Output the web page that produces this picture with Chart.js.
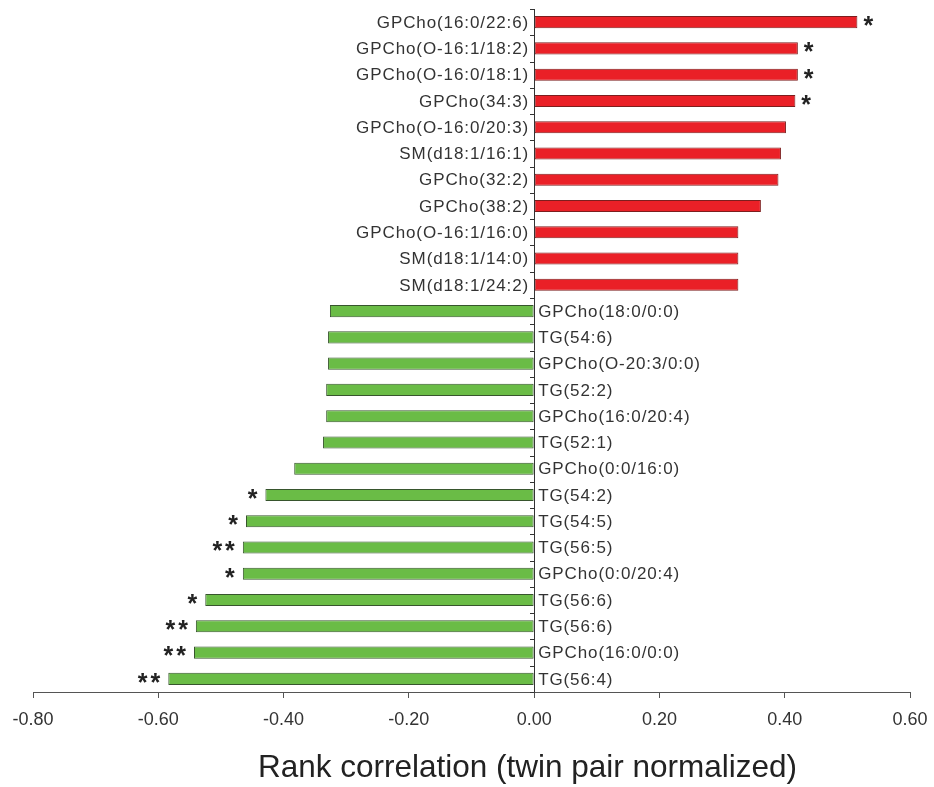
<!DOCTYPE html>
<html>
<head>
<meta charset="utf-8">
<script src="https://cdn.jsdelivr.net/npm/chart.js@4.4.0/dist/chart.umd.min.js"></script>
<style>
  html, body { margin: 0; padding: 0; background: #ffffff; }
  #wrap { width: 934px; height: 787px; position: relative; }
</style>
</head>
<body>
<div id="wrap"><canvas id="c" width="934" height="787"></canvas></div>
<script>
const categories = [
  "GPCho(16:0/22:6)", "GPCho(O-16:1/18:2)", "GPCho(O-16:0/18:1)", "GPCho(34:3)",
  "GPCho(O-16:0/20:3)", "SM(d18:1/16:1)", "GPCho(32:2)", "GPCho(38:2)",
  "GPCho(O-16:1/16:0)", "SM(d18:1/14:0)", "SM(d18:1/24:2)",
  "GPCho(18:0/0:0)", "TG(54:6)", "GPCho(O-20:3/0:0)", "TG(52:2)",
  "GPCho(16:0/20:4)", "TG(52:1)", "GPCho(0:0/16:0)", "TG(54:2)", "TG(54:5)",
  "TG(56:5)", "GPCho(0:0/20:4)", "TG(56:6)", "TG(56:6)", "GPCho(16:0/0:0)", "TG(56:4)"
];
const correlation = [
  0.516, 0.421, 0.421, 0.417, 0.402, 0.394, 0.390, 0.362, 0.326, 0.326, 0.326,
  -0.326, -0.329, -0.329, -0.332, -0.332, -0.337, -0.383, -0.429, -0.460,
  -0.465, -0.465, -0.525, -0.540, -0.543, -0.584
];
const significance = [
  "*", "*", "*", "*", "", "", "", "", "", "", "",
  "", "", "", "", "", "", "", "*", "*",
  "**", "*", "*", "**", "**", "**"
];
const xTicks = [-0.8, -0.6, -0.4, -0.2, 0, 0.2, 0.4, 0.6];
const axisTitle = "Rank correlation (twin pair normalized)";

const RED = "rgb(234,32,39)", RED_EDGE = "rgb(125,30,30)";
const GREEN = "rgb(106,188,70)", GREEN_EDGE = "rgb(55,85,45)";

const annotate = {
  id: "annotate",
  afterDatasetsDraw(chart) {
    const ctx = chart.ctx;
    const xs = chart.scales.x, ys = chart.scales.y;
    const x0 = xs.getPixelForValue(0);
    const area = chart.chartArea;
    const n = categories.length;
    const step = ys.getPixelForValue(1) - ys.getPixelForValue(0);
    ctx.save();
    // zero line
    ctx.strokeStyle = "#333";
    ctx.lineWidth = 1;
    ctx.beginPath();
    ctx.moveTo(Math.round(x0) + 0.5, area.top);
    ctx.lineTo(Math.round(x0) + 0.5, area.bottom);
    ctx.stroke();
    // boundary ticks on zero line
    for (let i = 0; i <= n; i++) {
      const yb = ys.getPixelForValue(0) + (i - 0.5) * step;
      ctx.beginPath();
      ctx.moveTo(Math.round(x0) - 4, Math.round(yb) + 0.5);
      ctx.lineTo(Math.round(x0) + 0.5, Math.round(yb) + 0.5);
      ctx.stroke();
    }
    // category labels
    ctx.font = "17px 'Liberation Sans', Arial, sans-serif";
    if ("letterSpacing" in ctx) ctx.letterSpacing = "0.9px";
    ctx.textBaseline = "middle";
    ctx.fillStyle = "#333";
    categories.forEach((lab, i) => {
      const y = ys.getPixelForValue(i);
      if (correlation[i] >= 0) { ctx.textAlign = "right"; ctx.fillText(lab, x0 - 5, y + 1); }
      else { ctx.textAlign = "left"; ctx.fillText(lab, x0 + 4, y + 1); }
    });
    // significance stars
    ctx.font = "bold 25px 'Liberation Sans', Arial, sans-serif";
    if ("letterSpacing" in ctx) ctx.letterSpacing = "3px";
    ctx.fillStyle = "#222";
    categories.forEach((lab, i) => {
      const s = significance[i];
      if (!s) return;
      const y = ys.getPixelForValue(i);
      const xe = xs.getPixelForValue(correlation[i]);
      if (correlation[i] >= 0) { ctx.textAlign = "left"; ctx.fillText(s, xe + 6, y + 5); }
      else { ctx.textAlign = "right"; ctx.fillText(s, xe - 5, y + 5); }
    });
    // axis title
    if ("letterSpacing" in ctx) ctx.letterSpacing = "0px";
    ctx.font = "31.5px 'Liberation Sans', Arial, sans-serif";
    ctx.textAlign = "center";
    ctx.textBaseline = "middle";
    ctx.fillStyle = "#222";
    ctx.fillText(axisTitle, (area.left + area.right) / 2 + 56, 768);
    ctx.restore();
  }
};

new Chart(document.getElementById("c"), {
  type: "bar",
  data: {
    labels: categories,
    datasets: [{
      data: correlation,
      backgroundColor: correlation.map(v => v >= 0 ? RED : GREEN),
      borderColor: correlation.map(v => v >= 0 ? RED_EDGE : GREEN_EDGE),
      borderWidth: 1,
      borderSkipped: false,
      categoryPercentage: 1.0,
      barPercentage: 0.46
    }]
  },
  options: {
    indexAxis: "y",
    responsive: false,
    animation: false,
    layout: { padding: { left: 33, right: 24, top: 9, bottom: 45 } },
    plugins: { legend: { display: false }, tooltip: { enabled: false } },
    scales: {
      y: { display: false, offset: true },
      x: {
        min: -0.8, max: 0.6,
        afterBuildTicks(scale) { scale.ticks = xTicks.map(v => ({ value: v })); },
        afterFit(scale) { scale.paddingLeft = 0; scale.paddingRight = 0; scale.height = 50; },
        border: { display: true, color: "#555", width: 1 },
        grid: { drawOnChartArea: false, drawTicks: true, tickLength: 6, color: "#555" },
        ticks: {
          color: "#333",
          padding: 11,
          font: { family: "'Liberation Sans', Arial, sans-serif", size: 18 },
          maxRotation: 0,
          callback: v => Number(v).toFixed(2)
        },
        title: { display: false }
      }
    }
  },
  plugins: [annotate]
});
</script>
</body>
</html>
